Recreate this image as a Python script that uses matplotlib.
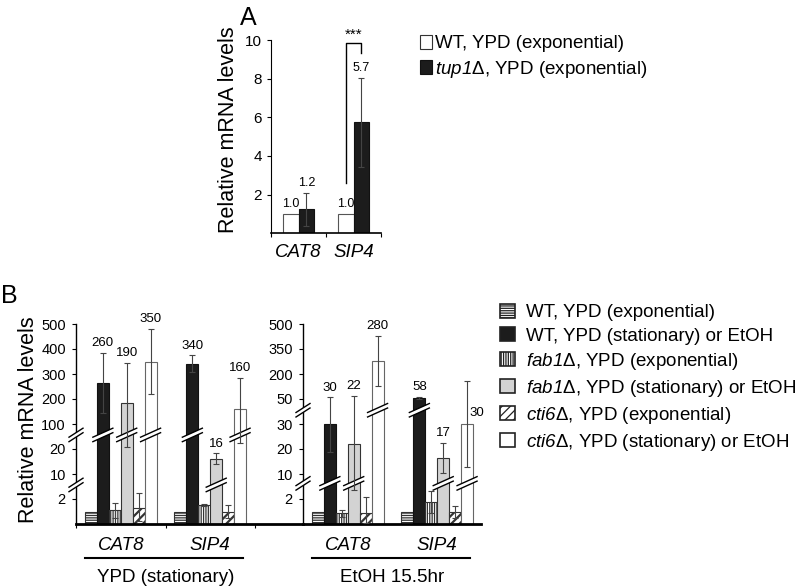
import matplotlib
matplotlib.use('Agg')
import matplotlib.pyplot as plt
import matplotlib.transforms as mtransforms
from matplotlib.patches import Patch, Polygon
import numpy as np

plt.rcParams['font.family'] = ['Liberation Sans', 'DejaVu Sans']
plt.rcParams['mathtext.fontset'] = 'custom'
plt.rcParams['mathtext.rm'] = 'Liberation Sans'
plt.rcParams['mathtext.sf'] = 'Liberation Sans:italic'  # italic gene names, digits included
plt.rcParams['hatch.color'] = 'black'
plt.rcParams['hatch.linewidth'] = 0.9

genes = ['CAT8', 'SIP4']

# panel A
a_legend = ['WT, YPD (exponential)', r'$\mathsf{tup1}$Δ, YPD (exponential)']
a_wt = [1.0, 1.0]
a_tup1 = [1.25, 5.75]
a_tup1_err = [0.85, 2.3]
a_wt_text = ['1.0', '1.0']
a_tup1_text = ['1.2', '5.7']

# panel B
b_legend = ['WT, YPD (exponential)',
            'WT, YPD (stationary) or EtOH',
            r'$\mathsf{fab1}$Δ, YPD (exponential)',
            r'$\mathsf{fab1}$Δ, YPD (stationary) or EtOH',
            r'$\mathsf{cti6}$Δ, YPD (exponential)',
            r'$\mathsf{cti6}$Δ, YPD (stationary) or EtOH']
conditions = ['YPD (stationary)', 'EtOH 15.5hr']

ypd_cat8 = [1.0, 265, 1.1, 185, 1.25, 350]
ypd_cat8_lo = [0, 120, 0.6, 160, 1.0, 130]
ypd_cat8_hi = [0, 120, 0.6, 160, 2.75, 130]
ypd_sip4 = [1.0, 340, 1.55, 16, 0.95, 160]
ypd_sip4_lo = [0, 30, 0.08, 2, 0.5, 120]
ypd_sip4_hi = [0, 35, 0.08, 2.3, 0.55, 125]

etoh_cat8 = [1.0, 30, 0.85, 22, 0.85, 280]
etoh_cat8_lo = [0, 11, 0.25, 17, 0.8, 150]
etoh_cat8_hi = [0, 30, 0.25, 47, 1.7, 150]
etoh_sip4 = [1.0, 58, 1.8, 16.5, 0.95, 30]
etoh_sip4_lo = [0, 5, 0.9, 6, 0.5, 17]
etoh_sip4_hi = [0, 6, 2.8, 6, 0.5, 128]

ypd_text = [['260', '190', '350'], ['340', '16', '160']]
etoh_text = [['30', '22', '280'], ['58', '17', '30']]

ypd_ticks = [2, 10, 20, 100, 200, 300, 400, 500]
etoh_ticks = [2, 10, 20, 30, 50, 200, 350, 500]

# styling
W, H = 805, 587
b_face = ['white', '#1c1c1c', 'white', '#d3d3d3', 'white', 'white']
b_hatch = ['-------', '', '|||||||', '', '////', '']
b_hatch_lw = [0.9, 0.9, 0.9, 0.9, 1.6, 0.9]
b_edge = ['#333333', '#111111', '#333333', '#333333', '#333333', '#666666']


def px_axes(fig, left, top, right, bottom):
    return fig.add_axes([left / W, 1 - bottom / H, (right - left) / W, (bottom - top) / H])


def thick_hatch(patches, lw):
    for p in patches:
        if hasattr(p, 'set_hatch_linewidth'):
            p.set_hatch_linewidth(lw)


def add_break(ax, x, y, half=10, rise=4.5, gap=4.5):
    # white slanted band with two lines, sized in pixels (dpi 100)
    trans = ax.figure.dpi_scale_trans + mtransforms.ScaledTranslation(x, y, ax.transData)
    pts = np.array([[-half, -rise - gap / 2], [half, rise - gap / 2],
                    [half, rise + gap / 2], [-half, -rise + gap / 2]]) / 100
    ax.add_patch(Polygon(pts, closed=True, facecolor='white', edgecolor='none',
                         transform=trans, zorder=3, clip_on=False))
    for s in (-1, 1):
        ax.plot(np.array([-half, half]) / 100,
                np.array([-rise + s * gap / 2, rise + s * gap / 2]) / 100,
                transform=trans, color='black', lw=1, zorder=3.5, clip_on=False)


fig = plt.figure(figsize=(W / 100, H / 100), dpi=100)

# ---------------- panel A
ax = px_axes(fig, 271, 40, 381, 233.3)
xc = np.arange(len(genes)) + 0.5
bw = 0.29
ax.bar(xc - bw / 2, a_wt, bw, color='white', edgecolor='#555555', lw=0.8, zorder=2)
ax.bar(xc + bw / 2, a_tup1, bw, color='#1c1c1c', edgecolor='#111111', lw=0.8, zorder=2)
ax.errorbar(xc + bw / 2, a_tup1, yerr=a_tup1_err, fmt='none', ecolor='#444444',
            elinewidth=0.8, capsize=2.5, capthick=0.8, zorder=4)
for i in range(len(genes)):
    ax.annotate(a_wt_text[i], (xc[i] - bw / 2, a_wt[i]), xytext=(0, 7),
                textcoords='offset points', ha='center', va='center', fontsize=9)
    ax.annotate(a_tup1_text[i], (xc[i] + bw / 2, a_tup1[i] + a_tup1_err[i]), xytext=(0, 7),
                textcoords='offset points', ha='center', va='center', fontsize=9)
# significance bracket
ax.plot([xc[1] - bw / 2, xc[1] - bw / 2, xc[1] + bw / 2, xc[1] + bw / 2],
        [2.6, 9.86, 9.86, 9.34], color='black', lw=1, clip_on=False)
ax.text(xc[1], 9.9, '***', ha='center', va='bottom', fontsize=11, clip_on=False)
ax.set_xlim(0, 2)
ax.set_ylim(0, 10)
ax.set_yticks([2, 4, 6, 8, 10])
ax.set_xticks([0, 1, 2], ['', '', ''])
ax.set_xticks(xc, genes, minor=True, fontstyle='italic', fontsize=13.5)
ax.tick_params(axis='y', labelsize=11, length=3, pad=3.5)
ax.tick_params(axis='x', which='major', length=3)
ax.tick_params(axis='x', which='minor', length=0, pad=7.5)
for s in ('top', 'right'):
    ax.spines[s].set_visible(False)
ax.spines['bottom'].set_linewidth(1.2)
ax.set_facecolor('none')
fig.text(228 / W, 1 - 130 / H, 'Relative mRNA levels', rotation=90,
         ha='center', va='center', fontsize=15.5)
fig.text(248 / W, 1 - 18 / H, 'A', ha='center', va='center', fontsize=18)

a_handles = [Patch(facecolor='white', edgecolor='#333333', lw=0.8),
             Patch(facecolor='#1c1c1c', edgecolor='#111111', lw=0.8)]
fig.legend(a_handles, a_legend, loc='upper left', bbox_to_anchor=(420 / W, 1 - 35 / H),
           frameon=False, fontsize=13.5, borderpad=0, borderaxespad=0,
           handlelength=0.64, handleheight=0.75, handletextpad=0.15, labelspacing=0.34)

# ---------------- panel B
panels = [
    (px_axes(fig, 76, 324, 303, 524), 227 / 89.5, ypd_ticks, (6.5, 65),
     [ypd_cat8, ypd_sip4], [ypd_cat8_lo, ypd_sip4_lo], [ypd_cat8_hi, ypd_sip4_hi],
     ypd_text, conditions[0], True),
    (px_axes(fig, 303, 324, 481, 524), 178 / 89.5, etoh_ticks, (7, 41),
     [etoh_cat8, etoh_sip4], [etoh_cat8_lo, etoh_sip4_lo], [etoh_cat8_hi, etoh_sip4_hi],
     etoh_text, conditions[1], False),
]
w = 0.1333
for ax, xmax, ticks, breaks, vals, los, his, texts, cond, xticks_on in panels:
    nodes = [0] + ticks
    pos = np.arange(len(nodes), dtype=float)
    ax.set_yscale('function', functions=(lambda v, n=nodes, p=pos: np.interp(v, n, p),
                                         lambda q, n=nodes, p=pos: np.interp(q, p, n)))
    for j in range(6):
        xs = np.arange(2) + 0.5 + (j - 2.5) * w
        ys = [vals[g][j] for g in range(2)]
        bars = ax.bar(xs, ys, w, color=b_face[j], edgecolor=b_edge[j], lw=0.8,
                      hatch=b_hatch[j], zorder=2)
        thick_hatch(bars, b_hatch_lw[j])
        for g in range(2):
            if his[g][j] > 0:
                ax.errorbar(xs[g], ys[g], yerr=[[los[g][j]], [his[g][j]]], fmt='none',
                            ecolor='#444444', elinewidth=0.8, capsize=2.5,
                            capthick=0.8, zorder=4)
            if ys[g] > breaks[1]:
                add_break(ax, xs[g], breaks[1])
            elif ys[g] > breaks[0]:
                add_break(ax, xs[g], breaks[0])
    # value labels on stationary bars
    for g in range(2):
        for k, j in enumerate([1, 3, 5]):
            x = g + 0.5 + (j - 2.5) * w
            top = vals[g][j] + his[g][j]
            if not xticks_on and g == 1 and j == 5:
                ax.annotate(texts[g][k], (x, vals[g][j]), xytext=(1.5, 8),
                            textcoords='offset points', ha='left', va='center',
                            fontsize=9.5)
            else:
                ax.annotate(texts[g][k], (x, top), xytext=(0, 7),
                            textcoords='offset points', ha='center', va='center',
                            fontsize=9.5)
    for b in breaks:
        add_break(ax, 0, b, half=7)
    ax.set_xlim(0, xmax)
    ax.set_ylim(0, 500)
    ax.set_yticks(ticks, [str(t) for t in ticks])
    ax.yaxis.set_minor_locator(matplotlib.ticker.NullLocator())
    ax.tick_params(axis='y', labelsize=10.5, length=3, pad=4.3)
    if xticks_on:
        ax.set_xticks([0, 1, 2], ['', '', ''])
        ax.tick_params(axis='x', which='major', length=3)
    else:
        ax.set_xticks([])
    ax.set_xticks([0.5, 1.5], genes, minor=True, fontstyle='italic', fontsize=13.5)
    ax.tick_params(axis='x', which='minor', length=0, pad=9.5)
    xt = ax.get_xaxis_transform()
    ax.plot([0.1, 1.87], [-0.17, -0.17], transform=xt, color='black', lw=1.5, clip_on=False)
    ax.text(1.0, -0.265, cond, transform=xt, ha='center', va='center', fontsize=13.5)
    for s in ('top', 'right'):
        ax.spines[s].set_visible(False)
    ax.spines['bottom'].set_linewidth(2)
    ax.spines['left'].set_linewidth(1)
    ax.set_facecolor('none')

fig.text(28 / W, 1 - 420 / H, 'Relative mRNA levels', rotation=90,
         ha='center', va='center', fontsize=15.5)
fig.text(9 / W, 1 - 296 / H, 'B', ha='center', va='center', fontsize=18)

b_handles = [Patch(facecolor=b_face[j], edgecolor='#222222', lw=1.2, hatch=b_hatch[j])
             for j in range(6)]
for hdl, lw in zip(b_handles, b_hatch_lw):
    thick_hatch([hdl], lw)
fig.legend(b_handles, b_legend, loc='upper left', bbox_to_anchor=(500 / W, 1 - 304 / H),
           frameon=False, fontsize=13.5, borderpad=0, borderaxespad=0,
           handlelength=0.8, handleheight=0.75, handletextpad=0.6, labelspacing=0.32)

fig.savefig('out.png', dpi=100)
